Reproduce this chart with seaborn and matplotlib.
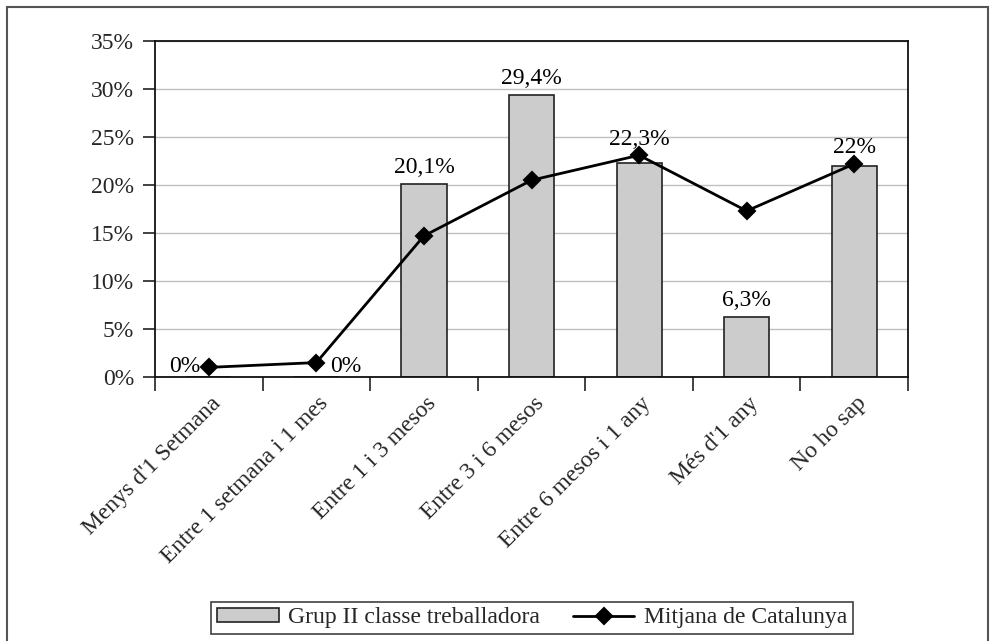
import numpy as np
import pandas as pd
import matplotlib
matplotlib.use("Agg")
import matplotlib.pyplot as plt
import matplotlib.transforms as mtransforms
from matplotlib.patches import Rectangle
from matplotlib.ticker import FixedLocator, FuncFormatter
import seaborn as sns

# data
categories = ["Menys d'1 Setmana", "Entre 1 setmana i 1 mes", "Entre 1 i 3 mesos",
              "Entre 3 i 6 mesos", "Entre 6 mesos i 1 any", "Més d'1 any", "No ho sap"]
grup_ii = [0, 0, 20.1, 29.4, 22.3, 6.3, 22.0]
grup_labels = ["0%", "0%", "20,1%", "29,4%", "22,3%", "6,3%", "22%"]
mitjana = [1.0, 1.5, 14.7, 20.5, 23.1, 17.3, 22.2]
yticks = [0, 5, 10, 15, 20, 25, 30, 35]

sns.set_theme(style="white")
plt.rcParams["font.family"] = ["Liberation Serif", "DejaVu Serif"]
FS = 17

df = pd.DataFrame({"cat": categories, "grup": grup_ii, "mitjana": mitjana})

fig = plt.figure(figsize=(9.91, 6.41), dpi=100)
ax = fig.add_axes([0.1564, 0.4119, 0.7599, 0.5241])

ax.yaxis.grid(True, color="#c0c0c0", linewidth=1)
ax.set_axisbelow(True)

sns.barplot(data=df, x="cat", y="grup", color="#cccccc", width=0.42,
            edgecolor="#222222", linewidth=1.2, saturation=1,
            label="Grup II classe treballadora", ax=ax)
sns.pointplot(data=df, x="cat", y="mitjana", color="black", markers="D",
              linestyles="-", linewidth=2, markersize=8,
              label="Mitjana de Catalunya", ax=ax)

# data labels of the bars (lifted above the line marker when it sits on the bar)
for i, (v, m, txt) in enumerate(zip(grup_ii, mitjana, grup_labels)):
    if v == 0:
        dx = -6 if i == 0 else 10
        ha = "right" if i == 0 else "left"
        ax.annotate(txt, (i, v), xytext=(dx, 0), textcoords="offset points",
                    ha=ha, va="bottom", fontsize=FS, color="black")
    else:
        y = max(v, m) if abs(v - m) < 1.5 else v
        ax.annotate(txt, (i, y), xytext=(0, 4), textcoords="offset points",
                    ha="center", va="bottom", fontsize=FS, color="black")

ax.set_xlim(-0.5, len(categories) - 0.5)
ax.set_ylim(0, 35)
ax.yaxis.set_major_locator(FixedLocator(yticks))
ax.yaxis.set_major_formatter(FuncFormatter(lambda v, p: f"{v:.0f}%"))
ax.set_xlabel("")
ax.set_ylabel("")

ax.xaxis.set_minor_locator(FixedLocator(np.arange(-0.5, len(categories), 1.0)))
ax.tick_params(axis="x", which="major", length=0, pad=6)
ax.tick_params(axis="x", which="minor", bottom=True, length=10, width=1.2, color="#222222", direction="out")
ax.tick_params(axis="y", which="major", left=True, length=9, width=1.2, color="#222222",
               direction="out", labelsize=FS, pad=6)
ax.set_xticks(range(len(categories)))
ax.set_xticklabels(categories, rotation=45, ha="right", va="center",
                   rotation_mode="anchor", fontsize=FS)
offset = mtransforms.ScaledTranslation(9 / 100, -15 / 100, fig.dpi_scale_trans)
for lab in ax.get_xticklabels():
    lab.set_transform(lab.get_transform() + offset)

for side in ["left", "bottom", "top", "right"]:
    ax.spines[side].set_visible(True)
    ax.spines[side].set_color("#111111")
    ax.spines[side].set_linewidth(1.3)

handles, labels = ax.get_legend_handles_labels()
if ax.get_legend() is not None:
    ax.get_legend().remove()
order = [labels.index("Grup II classe treballadora"), labels.index("Mitjana de Catalunya")]
leg = fig.legend([handles[k] for k in order], [labels[k] for k in order],
                 loc="center", bbox_to_anchor=(0.537, 0.036), ncol=2,
                 fontsize=FS, frameon=True, fancybox=False, edgecolor="#111111",
                 borderpad=0.25, handlelength=2.6, handleheight=0.55,
                 columnspacing=1.4, handletextpad=0.4, borderaxespad=0)
leg.get_frame().set_linewidth(1.2)

# outer frame around the chart
fig.patches.append(Rectangle((7 / 991, -0.05), 981 / 991, 1.05 - 7 / 641,
                             transform=fig.transFigure, fill=False,
                             edgecolor="#555555", linewidth=1.5))

fig.savefig("out.png", dpi=100)
